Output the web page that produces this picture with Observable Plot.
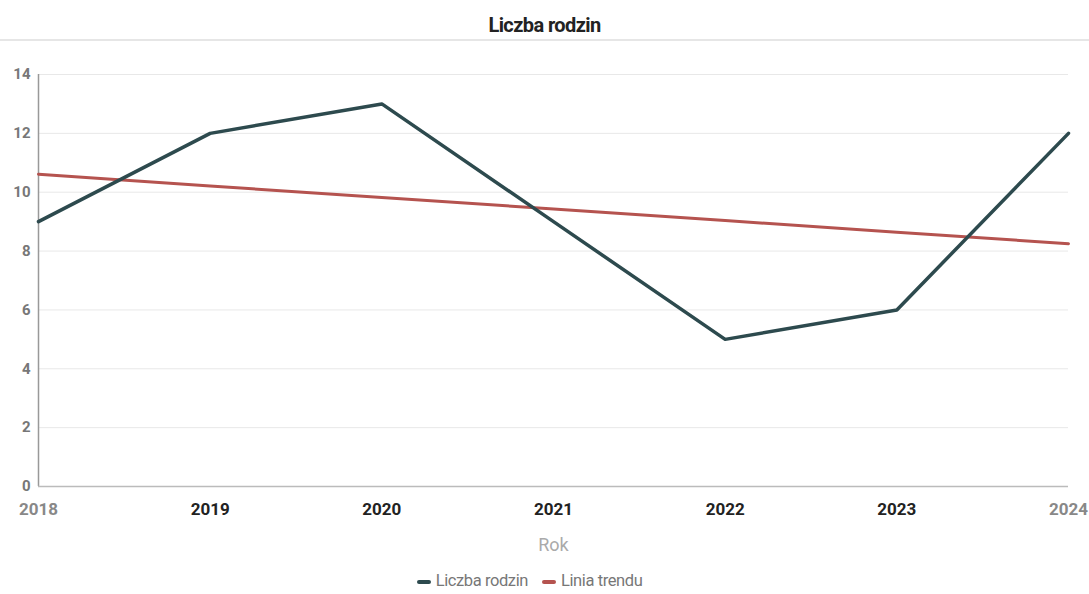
<!DOCTYPE html>
<html><head><meta charset="utf-8">
<script src="https://cdn.jsdelivr.net/npm/d3@7"></script>
<script src="https://cdn.jsdelivr.net/npm/@observablehq/plot@0.6"></script>
<style>
body{margin:0;background:#fff;font-family:Roboto,"Liberation Sans",sans-serif;}
#title{height:39px;border-bottom:2px solid #e6e6e6;text-align:center;font-weight:bold;font-size:20px;line-height:50px;color:#222;letter-spacing:-0.6px;}
#legend{display:flex;justify-content:center;gap:14px;font-size:16.5px;color:#777;margin-top:7px;padding-right:30px;letter-spacing:-0.4px;}
#legend span.sw{display:inline-block;width:14px;height:4px;border-radius:2px;vertical-align:middle;margin-right:5px;}
</style></head><body>
<div id="title">Liczba rodzin</div>
<div id="chart"></div>
<div id="legend"></div>
<script>
const years = [2018, 2019, 2020, 2021, 2022, 2023, 2024];
const families = [9, 12, 13, 9, 5, 6, 12];
const trend = [10.61, 10.21, 9.82, 9.43, 9.04, 8.64, 8.25];
const seriesNames = ["Liczba rodzin", "Linia trendu"];
const seriesColors = ["#2d4a4e", "#b5534f"];
const yTicks = [0, 2, 4, 6, 8, 10, 12, 14];

const data = years.map((y, i) => ({year: y, families: families[i], trend: trend[i]}));

const plot = Plot.plot({
  width: 1089,
  height: 523,
  marginLeft: 38,
  marginRight: 21,
  marginTop: 33,
  marginBottom: 78,
  style: {fontFamily: "Roboto, sans-serif", background: "#fff"},
  x: {domain: [2018, 2024], label: null},
  y: {domain: [0, 14], label: null},
  marks: [
    Plot.gridY(yTicks, {stroke: "#e8e8e8", strokeOpacity: 1}),
    Plot.axisY(yTicks, {tickSize: 0, tickPadding: 8, fontSize: 15, fill: "#777", fontWeight: "bold", label: null}),
    Plot.axisX(years.slice(1, -1), {tickSize: 0, tickPadding: 16, fontSize: 17, fontWeight: "bold", fill: "#222", tickFormat: "d", label: null}),
    Plot.axisX([years[0], years[years.length - 1]], {tickSize: 0, tickPadding: 16, fontSize: 17, fontWeight: "bold", fill: "#888", tickFormat: "d", label: null}),
    Plot.text(["Rok"], {frameAnchor: "bottom", dy: 64, fontSize: 18, fill: "#aaa"}),
    Plot.ruleX([2018], {stroke: "#999", strokeWidth: 1.5}),
    Plot.ruleY([0], {stroke: "#bbb", strokeWidth: 1.5}),
    Plot.line(data, {x: "year", y: "trend", stroke: seriesColors[1], strokeWidth: 3}),
    Plot.line(data, {x: "year", y: "families", stroke: seriesColors[0], strokeWidth: 3.5})
  ]
});
document.getElementById("chart").appendChild(plot);

const leg = document.getElementById("legend");
seriesNames.forEach((n, i) => {
  const d = document.createElement("div");
  d.innerHTML = `<span class="sw" style="background:${seriesColors[i]}"></span>${n}`;
  leg.appendChild(d);
});
</script>
</body></html>
